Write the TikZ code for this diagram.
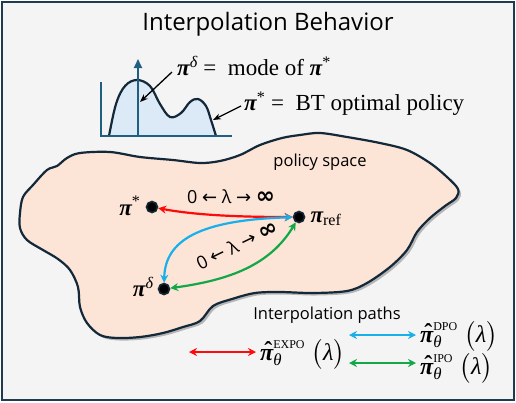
\RequirePackage{fix-cm}
\documentclass[tikz,border=0pt]{standalone}
\usepackage{amsmath}
\usepackage{fontspec}
\setmainfont{Liberation Serif}
\setsansfont{Open Sans}
\newfontfamily\symfont{DejaVu Sans}
\usetikzlibrary{arrows.meta,positioning}

\definecolor{framec}{HTML}{1F3B4D}
\definecolor{framebg}{HTML}{F4F4F4}
\definecolor{blobc}{HTML}{FCE4D6}
\definecolor{linec}{HTML}{13293A}
\definecolor{plotbg}{HTML}{DCE9F6}
\definecolor{axisc}{HTML}{1F6080}
\definecolor{expoc}{HTML}{FF0A0A}
\definecolor{dpoc}{HTML}{18B0EA}
\definecolor{ipoc}{HTML}{12A84A}

\newcommand{\bpi}{\text{\bfseries\itshape π}}
\newcommand{\hpi}{\text{\rlap{\raisebox{0.05em}{\hspace{0.17em}\bfseries ˆ}}\bfseries\itshape π}}
\newcommand{\lamtext}{0 {\symfont←} λ {\symfont→} {\symfont\bfseries\fontsize{23}{23}\selectfont∞}}

\tikzset{
  dot/.style={circle,fill=black,draw=linec,line width=1.6pt,inner sep=0pt,minimum size=11pt},
  pilabel/.style={font=\fontsize{23}{26}\selectfont,inner sep=1pt},
  leglabel/.style={font=\fontsize{24}{27}\selectfont,inner sep=1pt,anchor=west},
  lamlabel/.style={font=\sffamily\fontsize{18}{20}\selectfont,inner sep=0pt},
  interp/.style={line width=2.2pt,{Stealth[length=8pt,width=8pt]}-{Stealth[length=8pt,width=8pt]}},
  note/.style={line width=1.3pt,-{Stealth[length=8pt,width=6pt]}}
}

\def\blob{plot[smooth cycle,tension=0.55] coordinates {(47,170) (57,166) (67,158) (80,153) (110,152) (140,157)
  (173,160) (200,163) (220,161) (240,155) (260,145) (282,138) (300,135) (320,133) (347,137) (380,143)
  (407,150) (430,163) (447,177) (458,189) (456,198) (445,206) (430,218) (417,232) (407,250) (390,267)
  (367,283) (347,291) (313,293) (280,292) (255,293) (232,299) (213,306) (200,321) (183,327) (163,333)
  (140,337) (117,338) (100,335) (87,323) (80,307) (78,287) (70,270) (58,259) (43,250) (27,240)
  (20,228) (20,213) (23,197) (33,185)}}

\begin{document}
\begin{tikzpicture}[x=1pt,y=-1pt]
  \useasboundingbox (0,0) rectangle (516,402);
  \draw[framec,fill=framebg,line width=2.6pt] (2,2) rectangle (514,400);

  \node[font=\sffamily\fontsize{24}{28}\selectfont] (title) at (268,24) {Interpolation Behavior};

  % density sketch
  \fill[plotbg] plot[smooth,tension=0.6] coordinates {(109,136) (116,104) (125,86) (137,80) (150,86)
    (160,104) (170,117) (181,113) (190,102) (198,99) (206,106) (211,120) (216,136)} -- cycle;
  \draw[linec,line width=2.2pt] plot[smooth,tension=0.6] coordinates {(109,136) (116,104) (125,86) (137,80)
    (150,86) (160,104) (170,117) (181,113) (190,102) (198,99) (206,106) (211,120) (216,136)};
  \draw[axisc,line width=1.8pt] (101,82) -- (101,136) -- (232,136);
  \draw[axisc,line width=1.8pt,-{Triangle[length=9pt,width=8pt]}] (138,136) -- (138,59);

  \node[pilabel,anchor=west] (modelab) at (176,66) {$\bpi^{\text{\itshape δ}}$ = \ mode of $\bpi^{\text{*}}$};
  \node[pilabel,anchor=west] (optlab) at (243,104) {$\bpi^{\text{*}}$ = \ BT optimal policy};
  \coordinate (modetip) at (140,102);
  \coordinate (opttip) at (213,120);
  \draw[note] (modelab.west) ++(-4,6) -- (modetip);
  \draw[note] (optlab.west) ++(-2,2) -- (opttip);

  % policy space
  \fill[black,opacity=0.25,shift={(2.5,2.5)}] \blob;
  \draw[linec,fill=blobc,line width=2.2pt] \blob;
  \node[font=\sffamily\fontsize{16.5}{18}\selectfont] (space) at (320,162) {policy space};

  \node[dot] (pstar) at (152,207) {};
  \node[dot] (pref) at (299,217) {};
  \node[dot] (pdelta) at (164,289) {};
  \node[pilabel,left=4pt of pstar,yshift=1pt] (pstarlab) {$\bpi^{\text{*}}$};
  \node[pilabel,right=4pt of pref,yshift=-2pt] (preflab) {$\bpi_{\text{ref}}$};
  \node[pilabel,left=3pt of pdelta,yshift=2pt] (pdeltalab) {$\bpi^{\text{\itshape δ}}$};

  \draw[interp,expoc] (pstar) .. controls (200,216) and (250,217) .. (pref);
  \draw[interp,dpoc] (pref) .. controls (200,220) and (165,240) .. (pdelta);
  \draw[interp,ipoc] (pdelta) .. controls (230,280) and (270,265) .. (pref);
  \node[lamlabel] (lamtop) at (231,197) {\lamtext};
  \node[lamlabel,rotate=26] (lammid) at (237,245) {\lamtext};

  % legend
  \node[font=\sffamily\fontsize{16.5}{18}\selectfont] (legtitle) at (327,315) {Interpolation paths};
  \coordinate (expoa) at (189,352);
  \coordinate (expob) at (256,352);
  \coordinate (dpoa) at (349,335);
  \coordinate (dpob) at (416,335);
  \coordinate (ipoa) at (349,363);
  \coordinate (ipob) at (416,363);
  \draw[interp,expoc] (expoa) -- (expob);
  \draw[interp,dpoc] (dpoa) -- (dpob);
  \draw[interp,ipoc] (ipoa) -- (ipob);
  \node[leglabel] (expolab) at (259,354) {$\hpi^{\scriptscriptstyle\text{EXPO}}_{\text{\itshape θ}}\;\bigl(\text{\itshape λ}\bigr)$};
  \node[leglabel] (dpolab) at (419,336) {$\hpi^{\scriptscriptstyle\text{DPO}}_{\text{\itshape θ}}\;\bigl(\text{\itshape λ}\bigr)$};
  \node[leglabel] (ipolab) at (419,368) {$\hpi^{\scriptscriptstyle\text{IPO}}_{\text{\itshape θ}}\;\bigl(\text{\itshape λ}\bigr)$};
\end{tikzpicture}
\end{document}
